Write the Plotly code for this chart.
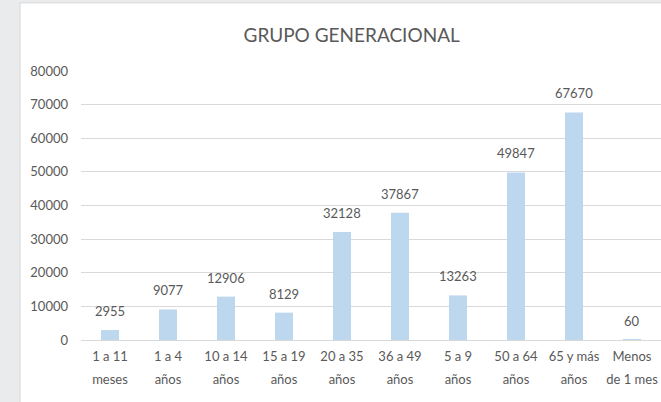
import plotly.graph_objects as go

categories = ["1 a 11 meses", "1 a 4 años", "10 a 14 años", "15 a 19 años",
              "20 a 35 años", "36 a 49 años", "5 a 9 años", "50 a 64 años",
              "65 y más años", "Menos de 1 mes"]
label_line1 = ["1 a 11", "1 a 4", "10 a 14", "15 a 19", "20 a 35", "36 a 49",
               "5 a 9", "50 a 64", "65 y más", "Menos"]
label_line2 = ["meses", "años", "años", "años", "años", "años",
               "años", "años", "años", "de 1 mes"]
values = [2955, 9077, 12906, 8129, 32128, 37867, 13263, 49847, 67670, 60]
y_ticks = [0, 10000, 20000, 30000, 40000, 50000, 60000, 70000, 80000]

FONT = "Lato, Open Sans, sans-serif"
GREY = "#595959"
n = len(categories)

fig = go.Figure()
fig.add_trace(go.Bar(
    x=categories,
    y=values,
    marker=dict(color="#bdd7ee", line=dict(width=0)),
    hoverinfo="x+y",
))
# invisible helper so the second label row (xaxis2) gets drawn
fig.add_trace(go.Scatter(
    x=list(range(n)), y=[0] * n, xaxis="x2", mode="markers",
    marker=dict(opacity=0), hoverinfo="skip",
))

# value labels, lifted a bit above the bars like in Excel
for cat, val in zip(categories, values):
    fig.add_annotation(x=cat, y=val, text=str(val), showarrow=False,
                       yanchor="bottom", yshift=9,
                       font=dict(family=FONT, size=13, color=GREY))

# white chart area over the grey window background
fig.add_shape(type="rect", xref="paper", yref="paper",
              x0=-0.105, x1=1.01, y0=-0.3, y1=1.253,
              fillcolor="white", line=dict(color="#d9d9d9", width=1), layer="below")

fig.update_layout(
    width=661, height=402,
    margin=dict(l=81, r=0, t=71, b=62, autoexpand=False),
    paper_bgcolor="#eaebed",
    plot_bgcolor="white",
    bargap=0.69,
    showlegend=False,
    font=dict(family=FONT, color=GREY, size=13),
    title=dict(text="GRUPO GENERACIONAL", x=0.532, xref="container", xanchor="center",
               y=0.913, yref="container", yanchor="middle",
               font=dict(size=19, color=GREY)),
    xaxis=dict(showgrid=False, showline=True, linecolor="#d9d9d9", ticks="",
               tickvals=categories, ticktext=label_line1, ticklabelstandoff=4,
               automargin=False, tickfont=dict(size=13, color=GREY), fixedrange=True),
    # second row of the category labels, spaced like the original
    xaxis2=dict(overlaying="x", side="bottom", range=[-0.5, n - 0.5],
                tickvals=list(range(n)), ticktext=label_line2, showgrid=False,
                showline=False, zeroline=False, ticks="", ticklabelstandoff=30,
                automargin=False, fixedrange=True,
                tickfont=dict(size=13, color=GREY)),
    yaxis=dict(range=[0, 80000], tickvals=y_ticks, tickformat="d", showgrid=True,
               gridcolor="#d9d9d9", zeroline=False, showline=False, ticks="",
               automargin=False, ticklabelstandoff=12, fixedrange=True,
               tickfont=dict(size=13, color=GREY)),
)

fig.write_html("out.html", config={"displayModeBar": False},
               post_script="document.body.style.margin='0';")
